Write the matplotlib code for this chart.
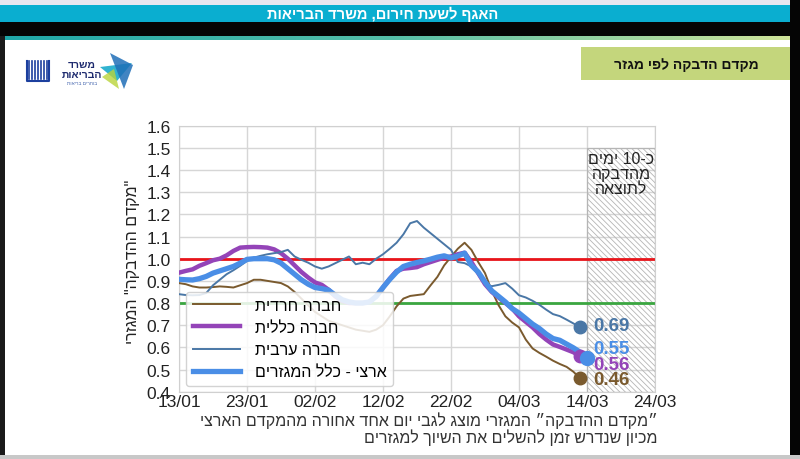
import numpy as np
import pandas as pd
import matplotlib
matplotlib.use('Agg')
import matplotlib.pyplot as plt
import matplotlib.dates as mdates
from matplotlib.patches import Rectangle, Polygon

plt.rcParams['font.family'] = ['Liberation Sans', 'DejaVu Sans']
plt.rcParams['hatch.linewidth'] = 0.6

# נתונים - מקדם הדבקה לפי מגזר (מוערך מהגרף)
haredi = [0.89, 0.885, 0.875, 0.87, 0.87, 0.872, 0.875, 0.873, 0.87, 0.88,
          0.89, 0.905, 0.905, 0.90, 0.895, 0.89, 0.875, 0.85, 0.82, 0.79,
          0.76, 0.74, 0.72, 0.71, 0.70, 0.69, 0.68, 0.675, 0.67, 0.68,
          0.70, 0.74, 0.785, 0.82, 0.832, 0.836, 0.84, 0.88, 0.918, 0.97,
          1.008, 1.045, 1.072, 1.04, 0.985, 0.935, 0.855, 0.79, 0.74, 0.712,
          0.69, 0.635, 0.595, 0.575, 0.558, 0.54, 0.525, 0.512, 0.49, 0.46]
klali = [0.937, 0.945, 0.952, 0.968, 0.98, 0.993, 1.0, 1.015, 1.035, 1.05,
         1.052, 1.053, 1.052, 1.05, 1.042, 1.025, 1.0, 0.97, 0.94, 0.915,
         0.893, 0.882, 0.86, 0.83, 0.81, 0.80, 0.80, 0.80, 0.805, 0.83,
         0.87, 0.91, 0.945, 0.955, 0.958, 0.962, 0.975, 0.985, 0.995, 1.005,
         1.01, 1.02, 1.027, 0.985, 0.935, 0.885, 0.85, 0.825, 0.80, 0.775,
         0.74, 0.715, 0.69, 0.66, 0.635, 0.613, 0.602, 0.59, 0.578, 0.56]
aravi = [0.84, 0.836, 0.835, 0.836, 0.845, 0.88, 0.905, 0.93, 0.948, 0.968,
         0.99, 1.005, 1.013, 1.02, 1.025, 1.03, 1.04, 1.01, 0.995, 0.982,
         0.965, 0.955, 0.965, 0.98, 0.995, 1.01, 0.975, 0.982, 0.975, 1.0,
         1.02, 1.045, 1.072, 1.11, 1.16, 1.17, 1.14, 1.115, 1.09, 1.065,
         1.04, 0.985, 0.98, 0.965, 0.93, 0.885, 0.876, 0.882, 0.89, 0.865,
         0.835, 0.825, 0.81, 0.792, 0.77, 0.75, 0.741, 0.725, 0.708, 0.69]
artzi = [0.907, 0.905, 0.904, 0.91, 0.92, 0.935, 0.945, 0.955, 0.965, 0.98,
         0.997, 1.0, 1.0, 1.0, 0.995, 0.98, 0.955, 0.93, 0.905, 0.885,
         0.87, 0.865, 0.858, 0.835, 0.815, 0.805, 0.80, 0.80, 0.805, 0.83,
         0.87, 0.907, 0.94, 0.965, 0.975, 0.983, 0.99, 0.998, 1.007, 1.013,
         1.003, 1.012, 1.025, 0.97, 0.94, 0.895, 0.855, 0.83, 0.805, 0.775,
         0.755, 0.73, 0.705, 0.685, 0.66, 0.64, 0.632, 0.615, 0.598, 0.578,
         0.55]

shemot = ['חברה חרדית', 'חברה כללית', 'חברה ערבית', 'ארצי - כלל המגזרים']
tavit_sof = ['0.46', '0.56', '0.69', '0.55']
tavit_y = [0.455, 0.524, 0.70, 0.594]

start = pd.Timestamp('2021-01-13')
dates_sector = pd.date_range(start, periods=len(haredi))
dates_artzi = pd.date_range(start, periods=len(artzi))

c_haredi = '#7a5a2e'
c_klali = '#9444b8'
c_aravi = '#4a77a6'
c_artzi = '#4a8ee6'


def heb(s):
    # סדר תצוגה מימין לשמאל (matplotlib מצייר משמאל לימין)
    return s[::-1]


fig = plt.figure(figsize=(8, 4.6), dpi=100)
fig.patch.set_facecolor('white')


# מסגרת השקף
def rect_px(x, y, w, h, color, z=1):
    fig.patches.append(Rectangle((x / 800, 1 - (y + h) / 460), w / 800, h / 460,
                                 transform=fig.transFigure, facecolor=color,
                                 edgecolor='none', zorder=z))


rect_px(0, 0, 800, 7, '#e9e6ef')
rect_px(0, 6, 800, 17, '#0aaed0')
rect_px(0, 23, 800, 14, '#050505')
rect_px(0, 37, 5, 423, '#1a1a1a')
rect_px(790, 0, 10, 460, '#050505')
rect_px(0, 456, 800, 4, '#c8c8c8')
rect_px(581, 48, 209, 33, '#c4d67c')

grad = fig.add_axes([0, 1 - 41 / 460, 790 / 800, 4 / 460])
grad.imshow(np.linspace(0, 1, 256)[None, :], aspect='auto',
            cmap=matplotlib.colors.LinearSegmentedColormap.from_list(
                'g', ['#1fa7a8', '#56bfa8', '#cfe49a']))
grad.axis('off')

fig.text(383 / 800, 1 - 14 / 460, heb('האגף לשעת חירום, משרד הבריאות'),
         color='white', fontsize=10.5, fontweight='bold', ha='center', va='center')
fig.text(686 / 800, 1 - 65 / 460, heb('מקדם הדבקה לפי מגזר'),
         color='#111111', fontsize=10, fontweight='bold', ha='center', va='center')

# לוגו
logo = fig.add_axes([20 / 800, 1 - 92 / 460, 120 / 800, 40 / 460])
logo.set_xlim(0, 120)
logo.set_ylim(0, 40)
logo.axis('off')
for xx in [9, 12, 15, 18, 21, 24, 27]:
    logo.plot([xx, xx], [12, 30], color='#1c3f9e', lw=1.2)
logo.plot([7, 7, 29, 29], [30, 10, 10, 30], color='#1c3f9e', lw=1.5)
logo.text(62, 27, heb('משרד'), color='#1d2a6e', fontsize=7.5, fontweight='bold',
          ha='center', va='center')
logo.text(62, 17, heb('הבריאות'), color='#1d2a6e', fontsize=7.5, fontweight='bold',
          ha='center', va='center')
logo.text(62, 8, heb('בוחרים בריאות'), color='#4a6ab0', fontsize=3.5,
          ha='center', va='center')
logo.add_patch(Polygon([[80, 24], [112, 28], [97, 10]], closed=True,
                       facecolor='#31b3d0', edgecolor='none'))
logo.add_patch(Polygon([[90, 38], [104, 2], [113, 26]], closed=True,
                       facecolor='#1f6fb8', edgecolor='none', alpha=0.85))
logo.add_patch(Polygon([[82, 14], [94, 22], [99, 2]], closed=True,
                       facecolor='#b9d43a', edgecolor='none', alpha=0.8))

# הגרף
ax = fig.add_axes([179 / 800, 1 - 392.7 / 460, 476 / 800, 266 / 460])
ax.set_facecolor('white')
ax.set_xlim(start, start + pd.Timedelta(days=70))
ax.set_ylim(0.4, 1.6)
ax.set_yticks(np.arange(0.4, 1.61, 0.1))
ax.set_yticklabels([f'{v:.1f}' for v in np.arange(0.4, 1.61, 0.1)])
ax.set_xticks(pd.date_range(start, periods=8, freq='10D'))
ax.xaxis.set_major_formatter(mdates.DateFormatter('%d/%m'))
ax.grid(True, color='#d6d6d6', lw=1)
ax.set_axisbelow(True)
for s in ax.spines.values():
    s.set_color('#d0d0d0')
ax.tick_params(axis='y', length=0, labelsize=12.5, colors='#222222', pad=6)
ax.tick_params(axis='x', length=0, labelsize=12.5, colors='#222222', pad=1.5)

ax.axhline(1.0, color='#e8141a', lw=2, zorder=2)
ax.axhline(0.8, color='#3aa640', lw=2, zorder=2)

hatch = Rectangle((mdates.date2num(start + pd.Timedelta(days=60)), 0.4),
                  10, 1.1, fill=False, hatch='\\\\\\\\\\\\', edgecolor='#b5b5b5',
                  lw=0.8, zorder=1)
ax.add_patch(hatch)
ax.text(start + pd.Timedelta(days=65), 1.485,
        heb('ימים') + ' 10-' + 'כ' + '\n' + heb('מהדבקה') + '\n' + heb('לתוצאה'),
        ha='center', va='top', fontsize=11.5, color='#222222', linespacing=1.0)

l1, = ax.plot(dates_sector, haredi, color=c_haredi, lw=1.4, zorder=3)
l2, = ax.plot(dates_sector, klali, color=c_klali, lw=3.2, zorder=4)
l3, = ax.plot(dates_sector, aravi, color=c_aravi, lw=1.4, zorder=5)
l4, = ax.plot(dates_artzi, artzi, color=c_artzi, lw=3.8, zorder=6)

ax.plot(dates_sector[-1], haredi[-1], 'o', color=c_haredi, ms=9, zorder=7)
ax.plot(dates_sector[-1], klali[-1], 'o', color=c_klali, ms=9, zorder=7)
ax.plot(dates_sector[-1], aravi[-1], 'o', color=c_aravi, ms=9, zorder=7)
ax.plot(dates_artzi[-1], artzi[-1], 'o', color=c_artzi, ms=10, zorder=8)

tavit_col = [c_haredi, c_klali, c_aravi, c_artzi]
for t, yy, cc in zip(tavit_sof, tavit_y, tavit_col):
    ax.text(start + pd.Timedelta(days=60.9), yy, t, color=cc, fontsize=13.5,
            fontweight='bold', va='center', ha='left', zorder=9)

leg = ax.legend([l1, l2, l3, l4], [heb(s) for s in shemot],
                loc='lower left', bbox_to_anchor=(0.015, 0.022), borderaxespad=0,
                fontsize=11.5, handlelength=3.0, handletextpad=0.9,
                labelspacing=0.45, framealpha=0.85, edgecolor='#cccccc',
                fancybox=True)
leg.set_zorder(10)

fig.text(133 / 800, 1 - 262 / 460, heb('"מקדם ההדבקה" המגזרי'), rotation=90,
         ha='center', va='center', fontsize=11.5, color='#222222')

fig.text(658 / 800, 1 - 421 / 460,
         heb('״מקדם ההדבקה״ המגזרי מוצג לגבי יום אחד אחורה מהמקדם הארצי'),
         ha='right', va='center', fontsize=11.5, color='#333333')
fig.text(658 / 800, 1 - 438 / 460,
         heb('מכיון שנדרש זמן להשלים את השיוך למגזרים'),
         ha='right', va='center', fontsize=11.5, color='#333333')

fig.savefig('out.png', dpi=100)
